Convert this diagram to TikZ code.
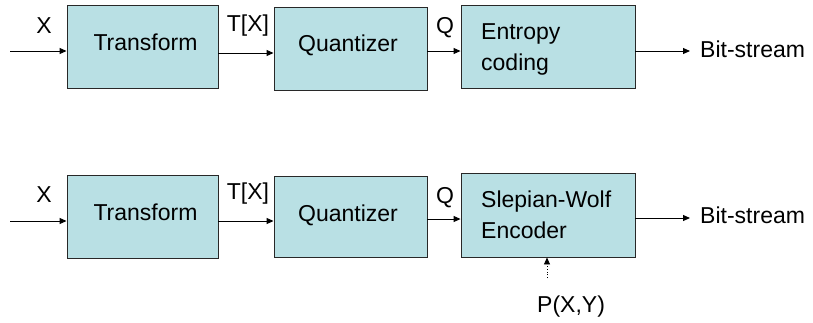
\documentclass[tikz,border=0pt]{standalone}
\usepackage{fontspec}
\setmainfont{Liberation Sans}
\usetikzlibrary{arrows.meta,calc}
\definecolor{boxfill}{RGB}{185,224,228}
\definecolor{boxline}{RGB}{40,40,40}
\begin{document}
\begin{tikzpicture}[x=1pt,y=-1pt,
  blk/.style={draw=boxline,line width=0.9pt,fill=boxfill,inner sep=0pt},
  txt/.style={inner sep=0pt,font=\fontsize{23}{31}\selectfont},
  arr/.style={line width=1pt,-{Triangle[length=7pt,width=6pt]}},
  darr/.style={line width=0.8pt,dotted,-{Triangle[length=7pt,width=6pt]}}]
\useasboundingbox (0,0) rectangle (813,322);
% ---------- top row ----------
\node[blk,minimum width=151pt,minimum height=83pt] (T1) at (142.5,46.5) {};
\node[blk,minimum width=153pt,minimum height=83pt] (Q1) at (350.5,48.5) {};
\node[blk,minimum width=174pt,minimum height=83pt] (E1) at (548,46.5) {};
\node[txt,anchor=base] (tT1) at (145.5,50) {Transform};
\node[txt,anchor=base] (tQ1) at (348,51) {Quantizer};
\node[txt,anchor=base west] (tE1a) at (481,39) {Entropy};
\node[txt,anchor=base west] (tE1b) at (481,70) {coding};
\node[txt,anchor=base] (lX1) at (44,33) {X};
\node[txt,anchor=base] (lT1) at (248,31) {T[X]};
\node[txt,anchor=base] (lQ1) at (445,33) {Q};
\node[txt,anchor=base west] (bs1) at (700,57) {Bit-stream};
\coordinate (in1) at (10,51);
\coordinate (out1) at (690,51);
\draw[arr] (in1) -- (in1 -| T1.west);
\coordinate (a1) at ($(T1.east)+(0,6.5)$);
\draw[arr] (a1) -- (a1 -| Q1.west);
\coordinate (b1) at ($(Q1.east)+(0,2.5)$);
\draw[arr] (b1) -- (b1 -| E1.west);
\draw[arr] (out1 -| E1.east) -- (out1);
% ---------- bottom row ----------
\node[blk,minimum width=151pt,minimum height=83pt] (T2) at (142.5,216.5) {};
\node[blk,minimum width=153pt,minimum height=81pt] (Q2) at (350.5,216.5) {};
\node[blk,minimum width=174pt,minimum height=84pt] (S2) at (548,215) {};
\node[txt,anchor=base] (tT2) at (145.5,220) {Transform};
\node[txt,anchor=base] (tQ2) at (348,221) {Quantizer};
\node[txt,anchor=base west] (tS2a) at (481,207) {Slepian-Wolf};
\node[txt,anchor=base west] (tS2b) at (481,238) {Encoder};
\node[txt,anchor=base] (lX2) at (44,202) {X};
\node[txt,anchor=base] (lT2) at (248,199) {T[X]};
\node[txt,anchor=base] (lQ2) at (445,203) {Q};
\node[txt,anchor=base west] (bs2) at (700,223) {Bit-stream};
\node[txt,anchor=base west] (pxy) at (537,312) {P(X,Y)};
\coordinate (in2) at (10,221);
\coordinate (out2) at (690,218);
\coordinate (side) at (547,278);
\draw[arr] (in2) -- (in2 -| T2.west);
\coordinate (a2) at ($(T2.east)+(0,4.5)$);
\draw[arr] (a2) -- (a2 -| Q2.west);
\coordinate (b2) at ($(Q2.east)+(0,2.5)$);
\draw[arr] (b2) -- (b2 -| S2.west);
\draw[arr] (out2 -| S2.east) -- (out2);
\draw[darr] (side) -- (side |- S2.south);
\end{tikzpicture}
\end{document}
